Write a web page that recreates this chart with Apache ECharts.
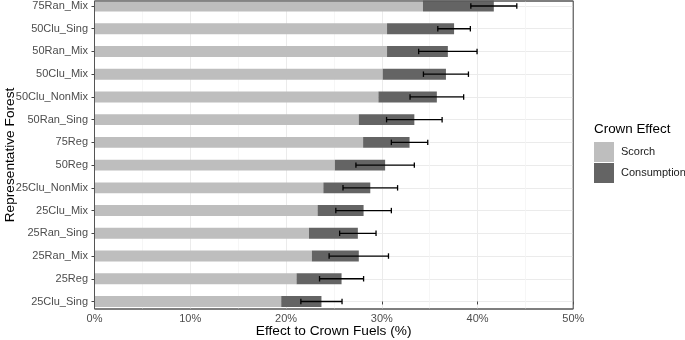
<!DOCTYPE html>
<html>
<head>
<meta charset="utf-8">
<script src="https://cdn.jsdelivr.net/npm/echarts@6/dist/echarts.min.js"></script>
<style>
html,body{margin:0;padding:0;background:#fff;}
#chart{width:685px;height:340px;}
</style>
</head>
<body>
<div id="chart"></div>
<script>
// Categories from bottom to top
var categories = ['25Clu_Sing','25Reg','25Ran_Mix','25Ran_Sing','25Clu_Mix','25Clu_NonMix','50Reg','75Reg','50Ran_Sing','50Clu_NonMix','50Clu_Mix','50Ran_Mix','50Clu_Sing','75Ran_Mix'];
var scorch      = [19.5, 21.1, 22.7, 22.4, 23.3, 23.9, 25.1, 28.05, 27.6, 29.65, 30.1, 30.55, 30.55, 34.3];
var consumption = [4.2, 4.7, 4.9, 5.1, 4.8, 4.9, 5.25, 4.85, 5.8, 6.1, 6.6, 6.35, 7.0, 7.4];
var errors      = [2.15, 2.3, 3.1, 1.9, 2.9, 2.85, 3.05, 1.9, 2.9, 2.8, 2.35, 3.05, 1.7, 2.4];
var xTicks = [0, 10, 20, 30, 40, 50];

var FONT = 'Liberation Sans, Arial, Helvetica, sans-serif';
var BAR_W = 0.48;
var CAP = 0.12;

var idxs = categories.map(function(_, i){ return i; });
var scorchData = idxs.map(function(i){ return [i, 0, scorch[i]]; });
var consData = idxs.map(function(i){ return [i, scorch[i], scorch[i] + consumption[i]]; });
var errData = idxs.map(function(i){ var t = scorch[i] + consumption[i]; return [i, t - errors[i], t + errors[i]]; });

function barItem(params, api) {
  var idx = api.value(0), a = api.value(1), b = api.value(2);
  var p0 = api.coord([a, idx]);
  var p1 = api.coord([b, idx]);
  var h = api.size([0, BAR_W])[1];
  return {
    type: 'rect',
    shape: { x: p0[0], y: p0[1] - h / 2, width: p1[0] - p0[0], height: h },
    style: { fill: api.visual('color') }
  };
}
function errItem(params, api) {
  var idx = api.value(0), a = api.value(1), b = api.value(2);
  var p0 = api.coord([a, idx]);
  var p1 = api.coord([b, idx]);
  var c = api.size([0, CAP])[1];
  var st = { stroke: '#000', lineWidth: 1.3 };
  return {
    type: 'group',
    children: [
      { type: 'line', shape: { x1: p0[0], y1: p0[1], x2: p1[0], y2: p1[1] }, style: st },
      { type: 'line', shape: { x1: p0[0], y1: p0[1] - c, x2: p0[0], y2: p0[1] + c }, style: st },
      { type: 'line', shape: { x1: p1[0], y1: p1[1] - c, x2: p1[0], y2: p1[1] + c }, style: st }
    ]
  };
}

var chart = echarts.init(document.getElementById('chart'), null, { renderer: 'canvas' });
chart.setOption({
  animation: false,
  backgroundColor: '#fff',
  textStyle: { fontFamily: FONT },
  grid: { left: 94.5, right: 111.7, top: 1, bottom: 31, show: true, borderColor: '#555', borderWidth: 1, backgroundColor: 'transparent' },
  xAxis: {
    type: 'value', min: 0, max: 50, interval: 10,
    axisLine: { show: false },
    axisTick: { show: true, length: 3, lineStyle: { color: '#444' } },
    axisLabel: { formatter: '{value}%', color: '#4d4d4d', fontSize: 11, margin: 4, fontFamily: FONT, showMaxLabel: true },
    splitLine: { show: true, lineStyle: { color: '#ebebeb', width: 1 } },
    minorTick: { show: false, splitNumber: 2 },
    minorSplitLine: { show: true, lineStyle: { color: '#f4f4f4', width: 0.8 } }
  },
  yAxis: {
    type: 'value', min: -0.33, max: 13.22,
    axisLine: { show: false },
    axisTick: { show: true, length: 3, customValues: idxs, lineStyle: { color: '#444' } },
    axisLabel: { customValues: idxs, formatter: function(v){ return categories[Math.round(v)]; }, color: '#4d4d4d', fontSize: 11, margin: 6.5, fontFamily: FONT },
    splitLine: { show: true, lineStyle: { color: '#ebebeb', width: 1 } }
  },
  legend: {
    orient: 'vertical', left: 594, top: 142, padding: 0,
    itemWidth: 20, itemHeight: 20, itemGap: 1, icon: 'rect',
    textStyle: { fontSize: 11, color: '#1a1a1a', fontFamily: FONT, padding: [0, 0, 0, 2] },
    data: ['Scorch', 'Consumption']
  },
  series: [
    { name: 'Scorch', type: 'custom', renderItem: barItem, data: scorchData, encode: { x: [1, 2], y: 0 }, itemStyle: { color: '#bebebe' }, z: 2 },
    { name: 'Consumption', type: 'custom', renderItem: barItem, data: consData, encode: { x: [1, 2], y: 0 }, itemStyle: { color: '#646464' }, z: 2 },
    { name: 'err', type: 'custom', renderItem: errItem, data: errData, encode: { x: [1, 2], y: 0 }, itemStyle: { color: '#000' }, z: 3 }
  ],
  graphic: [
    { type: 'rect', shape: { x: 94.5, y: 1, width: 478.8, height: 308 }, style: { fill: null, stroke: '#555', lineWidth: 1 }, z: 10, silent: true },
    { type: 'text', x: 333.7, y: 331, style: { text: 'Effect to Crown Fuels (%)', fontSize: 13.7, fill: '#000', fontFamily: FONT, textAlign: 'center', textVerticalAlign: 'middle' } },
    { type: 'text', x: 10, y: 155, rotation: Math.PI / 2, style: { text: 'Representative Forest', fontSize: 13.7, fill: '#000', fontFamily: FONT, textAlign: 'center', textVerticalAlign: 'middle' } },
    { type: 'text', x: 594, y: 129, style: { text: 'Crown Effect', fontSize: 13.4, fill: '#000', fontFamily: FONT, textAlign: 'left', textVerticalAlign: 'middle' } }
  ]
});
</script>
</body>
</html>
